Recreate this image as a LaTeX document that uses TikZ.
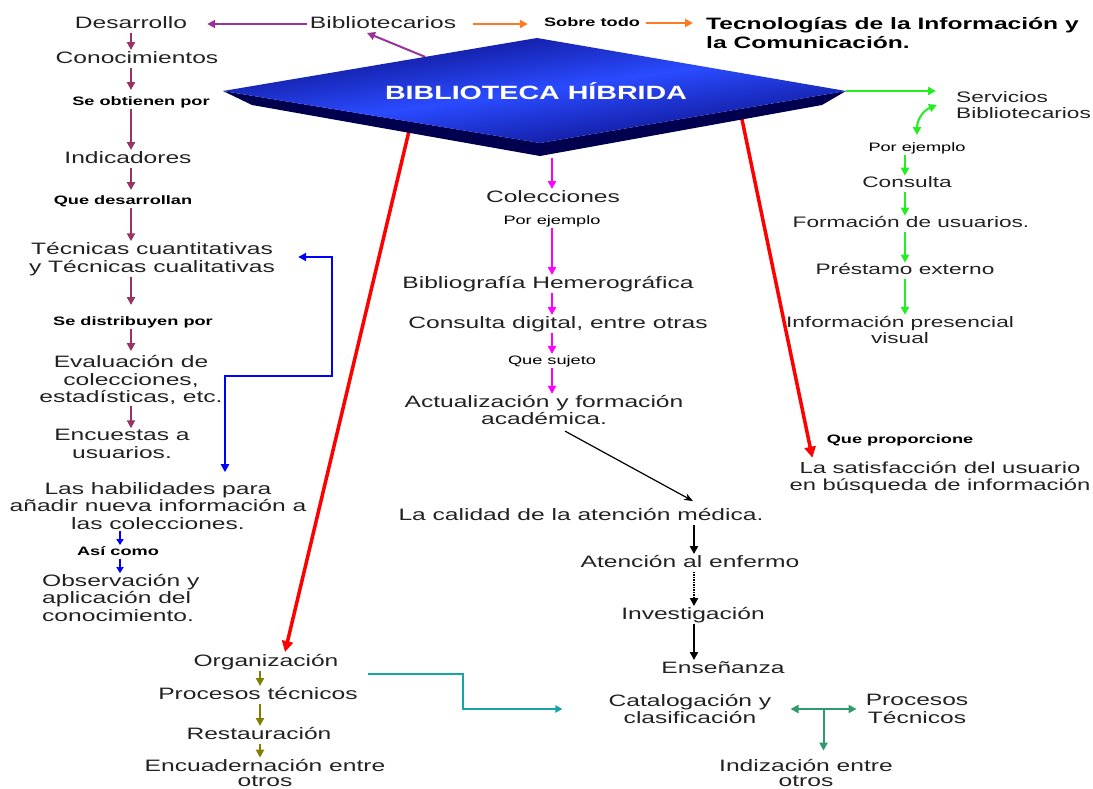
\documentclass[tikz,border=0pt]{standalone}
\usepackage{fontspec}
\setmainfont{Liberation Sans}[FakeStretch=1.49]
\usetikzlibrary{arrows.meta,calc}
\definecolor{cMar}{HTML}{993366}
\definecolor{cVio}{HTML}{993399}
\definecolor{cOra}{HTML}{FF7A22}
\definecolor{cGrn}{HTML}{22EE22}
\definecolor{cMag}{HTML}{FF00FF}
\definecolor{cRed}{HTML}{FF0000}
\definecolor{cOli}{HTML}{808000}
\definecolor{cTea}{HTML}{14A6A6}
\definecolor{cTg}{HTML}{2E9A6E}
\definecolor{cBlu}{HTML}{0000FF}
\definecolor{cTxt}{HTML}{222222}
\definecolor{cNavy}{HTML}{08087A}
\definecolor{cBlue}{HTML}{2A4BFF}
\definecolor{cNavyD}{HTML}{00004E}
\begin{document}
\begin{tikzpicture}[x=1pt,y=-1pt,
  txt/.style={inner sep=1pt,text=cTxt,font=\fontsize{16.5}{17.5}\selectfont,align=center},
  one/.style={txt,text height=12pt,text depth=3.5pt},
  rtx/.style={inner sep=1pt,text=cTxt,font=\fontsize{15.2}{16.5}\selectfont,align=center},
  rone/.style={rtx,text height=11pt,text depth=3.2pt},
  lbl/.style={inner sep=1pt,text=black,font=\bfseries\fontsize{12.2}{13}\selectfont,text height=9pt,text depth=2.5pt},
  sml/.style={inner sep=1pt,text=black,font=\fontsize{12.2}{13}\selectfont,text height=9pt,text depth=2.5pt},
  arw/.style={line width=#1,-{Triangle[length=8pt,width=8pt]}},
  dbl/.style={line width=#1,{Triangle[length=8pt,width=8pt]}-{Triangle[length=8pt,width=8pt]}},
  ]
\fill[white] (0,0) rectangle (1093,789);
\useasboundingbox (0,0) rectangle (1093,789);

% ---------- nodes: left column
\node[one] (des) at (131,24) {Desarrollo};
\node[one] (con) at (137,59) {Conocimientos};
\node[lbl] (sob) at (141,102) {Se obtienen por};
\node[one] (ind) at (128,159) {Indicadores};
\node[lbl] (qde) at (123,201) {Que desarrollan};
\node[txt] (tec) at (152,259) {Técnicas cuantitativas\\y Técnicas cualitativas};
\node[lbl] (sdi) at (133,322) {Se distribuyen por};
\node[txt] (eva) at (131,380) {Evaluación de\\colecciones,\\estadísticas, etc.};
\node[txt] (enc) at (122,444) {Encuestas a\\usuarios.};
\node[txt] (hab) at (158,506) {Las habilidades para\\añadir nueva información a\\las colecciones.};
\node[lbl] (asi) at (118,552) {Así como};
\node[txt,align=left,anchor=west] (obs) at (41,598) {Observación y\\aplicación del\\conocimiento.};

% ---------- top
\node[one] (bib) at (383,24) {Bibliotecarios};
\node[lbl] (sob2) at (592,23) {Sobre todo};
\node[txt,align=left,anchor=west,font=\bfseries\fontsize{16.5}{19}\selectfont,text=black] (tic) at (705,33) {Tecnologías de la Información y\\la Comunicación.};

% ---------- right column
\node[rtx,align=left,anchor=west] (ser) at (955,105) {Servicios\\Bibliotecarios};
\node[sml] (pe2) at (917,148) {Por ejemplo};
\node[rone] (cons) at (907,184) {Consulta};
\node[rone] (form) at (911,224) {Formación de usuarios.};
\node[rone] (pres) at (905,271) {Préstamo externo};
\node[rtx] (info) at (900,330) {Información presencial\\visual};
\node[lbl] (qpr) at (900,440) {Que proporcione};
\node[txt,font=\fontsize{16}{17}\selectfont] (sat) at (940,478) {La satisfacción del usuario\\en búsqueda de información};

% ---------- centre column
\node[one] (col) at (553,198) {Colecciones};
\node[sml] (pe1) at (552,221) {Por ejemplo};
\node[one] (bibh) at (548,284) {Bibliografía Hemerográfica};
\node[one] (cdig) at (558,324) {Consulta digital, entre otras};
\node[sml] (qsu) at (552,361) {Que sujeto};
\node[txt] (act) at (544,410) {Actualización y formación\\académica.};
\node[one] (cal) at (581,516) {La calidad de la atención médica.};
\node[one] (ate) at (690,563) {Atención al enfermo};
\node[one] (inv) at (693,615) {Investigación};
\node[one] (ens) at (723,669) {Enseñanza};

% ---------- bottom
\node[one] (org) at (266,662) {Organización};
\node[one] (proc) at (258,695) {Procesos técnicos};
\node[one] (rest) at (259,735) {Restauración};
\node[txt,font=\fontsize{16.5}{16}\selectfont] (encu) at (265,773) {Encuadernación entre\\otros};
\node[txt] (cat) at (690,709) {Catalogación y\\clasificación};
\node[txt] (ptec) at (917,709) {Procesos\\Técnicos};
\node[txt,font=\fontsize{16.5}{16}\selectfont] (indz) at (806,773) {Indización entre\\otros};

% ---------- diamond geometry
\coordinate (dL) at (223,91);
\coordinate (dT) at (537,38);
\coordinate (dR) at (846,91);
\coordinate (dB) at (540,143);
\coordinate (dBL) at (252,105);
\coordinate (dBB) at (540,156);
\coordinate (dBR) at (822,105);
\coordinate (rl) at (414,110);
\coordinate (rr) at (739,105);
\coordinate (dv) at ($(dL)!0.644!(dT)$);

% ---------- connectors behind diamond
\draw[cRed,line width=3.5pt,-{Triangle[length=11pt,width=11pt]}] (rl) -- ($(org.north)+(19,-1)$);
\draw[cRed,line width=3.5pt,-{Triangle[length=11pt,width=11pt]}] (rr) -- ($(sat.north west)+(24,-3)$);
\draw[arw=2pt,cVio] (dv) -- ($(bib.south)+(-16,0)$);

% ---------- diamond
\fill[cNavyD] (dL) -- (dB) -- (dR) -- (dBR) -- (dBB) -- (dBL) -- cycle;
\shade[top color=cNavy,bottom color=cNavy,middle color=cBlue,shading angle=8] (dL) -- (dT) -- (dR) -- (dB) -- cycle;
\node[font=\bfseries\fontsize{19.2}{20}\selectfont,text=white] (bh) at (536,91) {BIBLIOTECA HÍBRIDA};

% ---------- left column arrows
\coordinate (lx) at (131,0);
\foreach \a/\b/\s in {des/con/0,con/sob/5,sob/ind/0,ind/qde/4,qde/tec/0,tec/sdi/10,sdi/eva/3,eva/enc/0}
  \draw[arw=2.5pt,cMar,shorten >=\s pt] (\a.south -| lx) -- (\b.north -| lx);

% top arrows
\draw[arw=2pt,cVio] ($(bib.west)+(-2,0)$) -- ($(des.east)+(19,0)$);
\draw[arw=2pt,cOra] ($(bib.east)+(16,0)$) -- ($(bib.east -| sob2.west)+(-15,0)$);
\draw[arw=2pt,cOra] ($(sob2.east)+(5,0)$) -- ($(sob2.east -| tic.west)+(-12,0)$);

% blue
\coordinate (bj) at ($(hab.north)+(67,-9)$);
\draw[dbl=2.5pt,cBlu] ($(tec.east)+(22,-2)$) -- ++(34,0) |- ($(bj)+(0,-96)$) -- (bj);
\coordinate (bx) at (120,0);
\draw[line width=1.5pt,cBlu,-{Triangle[length=6pt,width=7pt]}] (hab.south -| bx) -- (asi.north -| bx);
\draw[line width=1.5pt,cBlu,-{Triangle[length=6pt,width=7pt]}] (asi.south -| bx) -- (obs.north -| bx);

% green
\draw[arw=2pt,cGrn] (dR) -- ($(dR -| ser.west)+(-19,0)$);
\draw[dbl=2pt,cGrn] ($(ser.west)+(-18,0)$) .. controls +(-15,6) and +(0,-14) .. ($(pe2.north)+(0,-6)$);
\coordinate (gx) at (905,0);
\foreach \a/\b in {pe2/cons,cons/form,form/pres,pres/info}
  \draw[arw=2pt,cGrn] (\a.south -| gx) -- (\b.north -| gx);

% magenta
\coordinate (mx) at (552,0);
\draw[arw=2.5pt,cMag] ($(dBB -| mx)+(0,2)$) -- (col.north -| mx);
\foreach \a/\b in {pe1/bibh,bibh/cdig,cdig/qsu,qsu/act}
  \draw[arw=2.5pt,cMag] (\a.south -| mx) -- (\b.north -| mx);

% black
\draw[line width=1.2pt,-{Stealth[length=9pt,width=7pt]}] ($(act.south)+(21,5)$) -- ($(cal.north)+(112,-6)$);
\coordinate (kx) at (694,0);
\draw[arw=2.5pt,black] (cal.south -| kx) -- (ate.north -| kx);
\draw[arw=2.5pt,black,dash pattern=on 1.5pt off 1pt] (ate.south -| kx) -- (inv.north -| kx);
\draw[arw=2.5pt,black] (inv.south -| kx) -- (ens.north -| kx);

% olive
\coordinate (ox) at (260,0);
\foreach \a/\b in {org/proc,proc/rest,rest/encu}
  \draw[arw=2.5pt,cOli] (\a.south -| ox) -- (\b.north -| ox);

% teal
\draw[line width=2pt,cTea,-{Triangle[length=7pt,width=7pt]}] ($(org.east)+(28,12)$) -- ++(95,0) |- ($(cat.west)+(-45,0)$);
\draw[dbl=2pt,cTg] ($(cat.east)+(18,0)$) -- ($(ptec.west)+(-8,0)$);
\coordinate (tj) at ($(cat.east)+(51,0)$);
\draw[arw=2pt,cTg] (tj) -- ($(tj |- indz.north)+(0,-7)$);
\end{tikzpicture}
\end{document}
